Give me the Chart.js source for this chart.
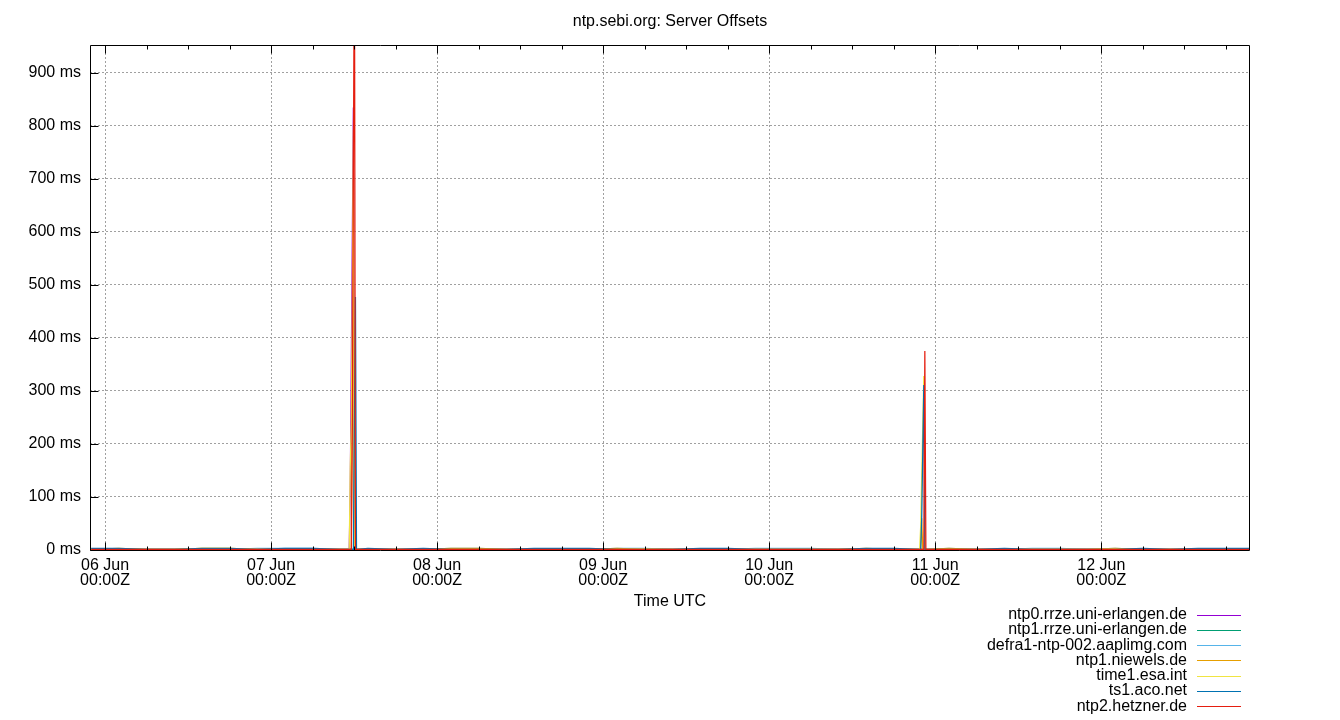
<!DOCTYPE html>
<html>
<head>
<meta charset="utf-8">
<title>ntp.sebi.org: Server Offsets</title>
<script src="https://cdn.jsdelivr.net/npm/chart.js@4.4.1/dist/chart.umd.min.js"></script>
<style>
  html, body { margin: 0; padding: 0; background: #fff; }
  #wrap { width: 1340px; height: 720px; }
</style>
</head>
<body>
<div id="wrap"><canvas id="offsets" width="1340" height="720"></canvas></div>
<script>
// Abscisse : heures depuis le 06 Jun 00:00Z (base toutes les 4 h, plus serré autour des pics)
const hours = [
  -2, 2, 6, 10, 14, 18, 22, 26, 30, 34,
  35.3, 35.45, 35.6, 35.75, 35.9, 36.05, 36.2, 36.35, 36.5,
  38, 42, 46, 50, 54, 58, 62, 66, 70, 74, 78, 82, 86, 90, 94, 98, 102, 106, 110, 114,
  117.6, 117.75, 117.9, 118.05, 118.2, 118.35, 118.5, 118.65, 118.8,
  122, 126, 130, 134, 138, 142, 146, 150, 154, 158, 162, 166
];

const serverNames = [
  "ntp0.rrze.uni-erlangen.de",
  "ntp1.rrze.uni-erlangen.de",
  "defra1-ntp-002.aaplimg.com",
  "ntp1.niewels.de",
  "time1.esa.int",
  "ts1.aco.net",
  "ntp2.hetzner.de"
];
const serverColors = ["#9400d3", "#009e73", "#56b4e9", "#e69f00", "#f0e442", "#0072b2", "#e51e10"];

// Offsets en ms, un tableau par serveur
const ntp0Rrze = [
  1, 1, 1, 1, 1, 1, 1, 2.5, 1, 1,
  1, 119, 357, 594, 834, 1, 1, 1, 1,
  1, 1, 1, 1, 1, 1, 1, 1, 1, 1, 2.5, 1, 1, 1, 1, 1, 1, 1, 1, 1,
  1, 1, 1, 1, 1, 1, 1, 1, 1,
  1, 1, 1, 1, 1, 1, 1, 1, 1, 1, 1, 2.5
];
const ntp1Rrze = [
  1, 1, 1, 1, 1, 1, 1, 1, 1, 1,
  1, 1, 1, 1, 1, 1, 1, 1, 1,
  1, 1, 1, 1, 1, 1, 1, 1, 1, 1, 1, 1, 1, 1, 1, 1, 1, 1, 1, 1,
  1, 1, 1, 1, 1, 1, 1, 1, 1,
  1, 1, 1, 1, 1, 1, 1, 1, 1, 1, 1, 1
];
const defra1 = [
  1, 1, 1, 1, 1, 1, 3, 3, 3, 1,
  1, 1, 1, 1, 1, 1, 1, 1, 1,
  1, 1, 1, 3, 3, 1, 1, 1, 1, 3, 3, 1, 1, 1, 3, 3, 3, 1, 1, 1,
  1, 1, 1, 1, 1, 1, 1, 1, 1,
  3, 1, 1, 3, 3, 1, 3, 1, 1, 1, 1, 1
];
const niewels = [
  1, 3, 1, 1, 3, 3, 1, 1, 1, 1,
  1, 1, 1, 297, 475, 1, 1, 1, 1,
  1, 1, 1, 3, 3, 1, 1, 1, 1, 3, 1, 1, 1, 1, 1, 1, 1, 1, 3, 1,
  1, 1, 1, 60, 1, 1, 1, 1, 1,
  3, 1, 1, 1, 1, 1, 3, 1, 1, 1, 1, 3
];
const esa = [
  1, 1, 1, 1, 3, 3, 1, 1, 1, 1,
  1, 157, 240, 477, 792, 1, 1, 1, 1,
  1, 1, 1, 1, 1, 1, 1, 1, 1, 1, 2, 1, 1, 1, 1, 1, 1, 1, 1, 1,
  1, 1, 45, 140, 234, 328, 1, 1, 1,
  1, 1, 1, 1, 1, 1, 2, 1, 1, 1, 1, 1
];
const acoNet = [
  3, 3, 1, 1, 3, 3, 1, 3, 3, 1,
  1, 1, 1, 1, 1, 240, 477, 1, 1,
  3, 1, 3, 1, 1, 1, 3, 3, 3, 1, 1, 1, 3, 3, 1, 1, 1, 1, 3, 3,
  1, 1, 1, 62, 187, 311, 1, 1, 1,
  1, 1, 3, 1, 1, 1, 1, 3, 1, 3, 3, 3
];
const hetzner = [
  1, 1, 1, 1, 1, 1, 1, 1, 1, 1,
  1, 1, 1, 240, 713, 1180, 1, 1, 1,
  1, 1, 1, 1, 1, 1, 1, 1, 1, 1, 1, 1, 1, 1, 1, 1, 1, 1, 1, 1,
  1, 1, 1, 1, 1, 1, 375, 1, 1,
  1, 1, 1, 1, 1, 1, 1, 1, 1, 1, 1, 1
];
const seriesValues = [ntp0Rrze, ntp1Rrze, defra1, niewels, esa, acoNet, hetzner];

// Graduations
const dayLabels = ["06 Jun", "07 Jun", "08 Jun", "09 Jun", "10 Jun", "11 Jun", "12 Jun"];
const xTickHours = [0, 6, 12, 18, 24, 30, 36, 42, 48, 54, 60, 66, 72, 78, 84, 90, 96, 102, 108, 114, 120, 126, 132, 138, 144, 150, 156, 162];
const yTickValues = [0, 100, 200, 300, 400, 500, 600, 700, 800, 900];

const FONT = '"Liberation Sans", Arial, sans-serif';
Chart.defaults.font.family = FONT;
Chart.defaults.font.size = 16;
Chart.defaults.color = "#000";

// Cadre, petites graduations internes et légende façon gnuplot
const gnuplotFrame = {
  id: "gnuplotFrame",
  afterDraw(chart) {
    const { ctx, chartArea: a, scales: { x, y } } = chart;
    const L = Math.round(a.left) + 0.5;
    const R = Math.round(a.right) - 0.5;
    const T = Math.round(a.top) + 0.5;
    const B = Math.round(a.bottom) + 0.5;
    ctx.save();
    ctx.strokeStyle = "#000";
    ctx.lineWidth = 1;
    ctx.beginPath();
    ctx.moveTo(L, T); ctx.lineTo(R, T); ctx.lineTo(R, B); ctx.lineTo(L, B); ctx.closePath();

    x.ticks.forEach((t) => {
      const px = Math.round(x.getPixelForValue(t.value)) + 0.5;
      const len = t.value % 24 === 0 ? 8 : 4;
      ctx.moveTo(px, B); ctx.lineTo(px, B - len);
      ctx.moveTo(px, T); ctx.lineTo(px, T + len);
    });
    y.ticks.forEach((t) => {
      const py = Math.round(y.getPixelForValue(t.value)) + 0.5;
      ctx.moveTo(L, py); ctx.lineTo(L + 8, py);
    });
    ctx.stroke();

    // légende en bas à droite, texte aligné à droite
    ctx.font = "16px " + FONT;
    ctx.textAlign = "right";
    ctx.textBaseline = "middle";
    chart.data.datasets.forEach((ds, i) => {
      const ly = 614.5 + i * 15.3;
      ctx.fillStyle = "#000";
      ctx.fillText(ds.label, 1187, ly);
      ctx.strokeStyle = ds.borderColor;
      ctx.beginPath();
      ctx.moveTo(1197, Math.round(ly) + 0.5);
      ctx.lineTo(1241, Math.round(ly) + 0.5);
      ctx.stroke();
    });
    ctx.restore();
  }
};

const datasets = serverNames.map((name, i) => ({
  label: name,
  data: hours.map((h, k) => ({ x: h, y: seriesValues[i][k] })),
  borderColor: serverColors[i],
  backgroundColor: serverColors[i],
  borderWidth: 1.25,
  pointRadius: 0,
  tension: 0,
  fill: false,
  order: serverNames.length - 1 - i // le dernier serveur est dessiné par-dessus
}));

new Chart(document.getElementById("offsets"), {
  type: "line",
  data: { datasets },
  options: {
    responsive: false,
    animation: false,
    devicePixelRatio: 1,
    events: [],
    layout: { padding: 0 },
    plugins: {
      legend: { display: false },
      tooltip: { enabled: false },
      title: {
        display: true,
        text: "ntp.sebi.org: Server Offsets",
        font: { size: 16, weight: "normal", lineHeight: 1.2 },
        color: "#000",
        padding: { top: 11.5, bottom: 14.3 }
      }
    },
    scales: {
      x: {
        type: "linear",
        min: -2.17,
        max: 165.5,
        afterBuildTicks: (s) => { s.ticks = xTickHours.map((v) => ({ value: v })); },
        afterFit: (s) => { s.height = 170; },
        ticks: {
          autoSkip: false,
          maxRotation: 0,
          padding: 8,
          font: { size: 16, lineHeight: 0.95 },
          callback: (v) => (v % 24 === 0 ? [dayLabels[v / 24], "00:00Z"] : "")
        },
        grid: {
          drawTicks: false,
          lineWidth: 1,
          color: (c) => (c.tick && c.tick.value % 24 === 0 ? "#a0a0a0" : "rgba(0,0,0,0)")
        },
        border: { display: false, dash: [2, 2] },
        title: {
          display: true,
          text: "Time UTC",
          font: { size: 16, lineHeight: 1.2 },
          padding: { top: 0, bottom: 109 }
        }
      },
      y: {
        type: "linear",
        position: "left",
        min: 0,
        max: 952,
        afterBuildTicks: (s) => { s.ticks = yTickValues.map((v) => ({ value: v })); },
        afterFit: (s) => { s.width = 90; },
        ticks: {
          padding: 9,
          callback: (v) => v + " ms"
        },
        grid: { drawTicks: false, lineWidth: 1, color: "#a0a0a0" },
        border: { display: false, dash: [2, 2] }
      },
      // axe vide à droite pour réserver la marge (le titre reste centré sur la page)
      yRight: {
        type: "linear",
        position: "right",
        display: true,
        afterFit: (s) => { s.width = 90; },
        ticks: { display: false },
        grid: { display: false, drawOnChartArea: false },
        border: { display: false }
      }
    }
  },
  plugins: [gnuplotFrame]
});
</script>
</body>
</html>
